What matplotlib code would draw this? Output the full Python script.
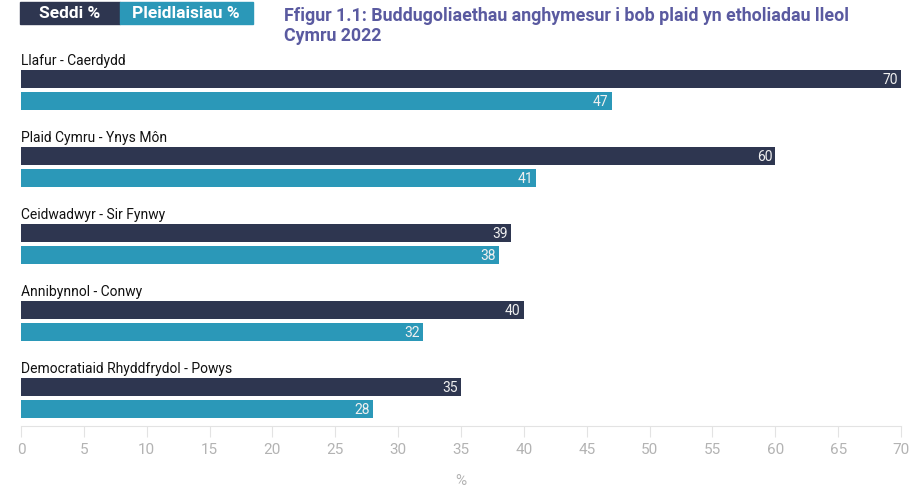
import numpy as np
import matplotlib.pyplot as plt

plt.rcParams['font.family'] = ['Roboto', 'DejaVu Sans']

parties = ['Llafur - Caerdydd', 'Plaid Cymru - Ynys Môn', 'Ceidwadwyr - Sir Fynwy',
           'Annibynnol - Conwy', 'Democratiaid Rhyddfrydol - Powys']
seats = [70, 60, 39, 40, 35]
votes = [47, 41, 38, 32, 28]
series_names = ['Seddi %', 'Pleidlaisiau %']
title = 'Ffigur 1.1: Buddugoliaethau anghymesur i bob plaid yn etholiadau lleol\nCymru 2022'

dark = '#2e3650'
light = '#2b98b8'

fig = plt.figure(figsize=(9.23, 4.89), dpi=100)
ax = fig.add_axes([21/923, 1-427/489, 880/923, 377/489])

pos = np.arange(len(parties))
off = 22/77
h = 18/77
ax.barh(pos, seats, height=h, color=dark)
ax.barh(pos + off, votes, height=h, color=light)

for i, p in enumerate(parties):
    ax.text(0, pos[i] - 0.25, p, fontsize=10, color='#111111', va='center', ha='left')
    ax.text(seats[i] - 0.25, pos[i], str(seats[i]), color='#f0f0f0', fontsize=10,
            va='center', ha='right')
    ax.text(votes[i] - 0.25, pos[i] + off, str(votes[i]), color='#f0f0f0', fontsize=10,
            va='center', ha='right')

ax.set_xlim(0, 70)
ax.set_ylim(4.506, -0.39)
ax.set_xticks(np.arange(0, 71, 5))
ax.set_yticks([])
for s in ['top', 'right', 'left']:
    ax.spines[s].set_visible(False)
ax.spines['bottom'].set_color('#e3e3e3')
ax.tick_params(axis='x', colors='#e3e3e3', labelcolor='#b3b3b3', labelsize=11, length=8)
ax.set_xlabel('%', color='#b3b3b3', fontsize=11, labelpad=12)

# legend boxes at top
fig.patches.append(plt.Rectangle((20/923, 1-25/489), 100/923, 22/489,
                                 transform=fig.transFigure, color=dark))
fig.patches.append(plt.Rectangle((120/923, 1-25/489), 133/923, 22/489,
                                 transform=fig.transFigure, color=light))
fig.text(70/923, 1-14/489, series_names[0], color='white', fontsize=12.5,
         fontweight='bold', ha='center', va='center')
fig.text(186/923, 1-14/489, series_names[1], color='white', fontsize=12.5,
         fontweight='bold', ha='center', va='center')

fig.text(284/923, 1-7/489, title, color='#5a5aa0', fontsize=12.8,
         fontweight='bold', ha='left', va='top', linespacing=1.15)

fig.savefig('out.png', dpi=100)
